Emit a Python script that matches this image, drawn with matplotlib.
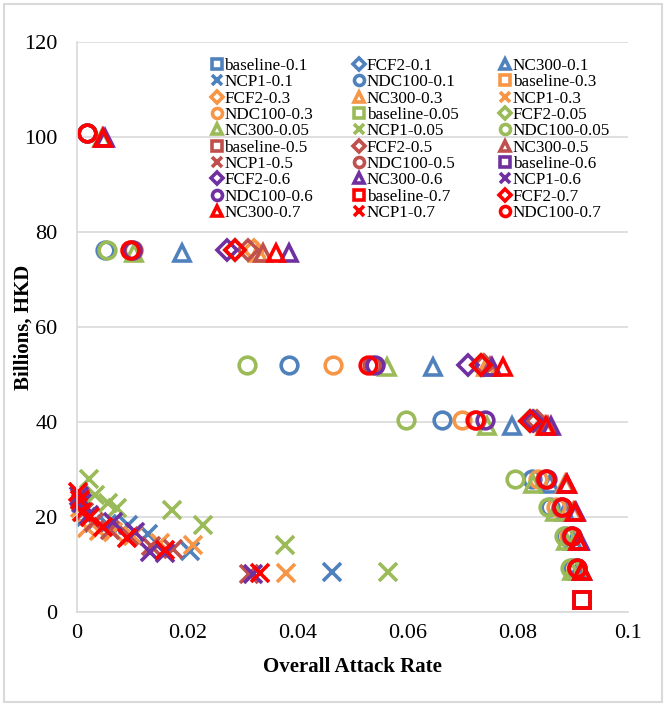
import matplotlib
matplotlib.use("Agg")
import matplotlib.pyplot as plt
from matplotlib.patches import Rectangle

plt.rcParams['font.family'] = ['Liberation Serif', 'DejaVu Serif']

thresholds = ["0.1", "0.3", "0.05", "0.5", "0.6", "0.7"]
colors = {"0.1": "#4F81BD", "0.3": "#F79646", "0.05": "#9BBB59",
          "0.5": "#C0504D", "0.6": "#7030A0", "0.7": "#FF0000"}
strategies = ["baseline", "FCF2", "NC300", "NCP1", "NDC100"]
markers = {"baseline": "s", "FCF2": "D", "NC300": "^", "NCP1": "x", "NDC100": "o"}
msizes = {"baseline": 12, "FCF2": 10, "NC300": 12, "NCP1": 12.5, "NDC100": 12}

# baseline (no intervention)
baseline_x = {t: [0.0916] for t in thresholds}
baseline_y = {t: [2.6] for t in thresholds}

# FCF2
fcf2_y = [76.2, 52.0, 40.2]
fcf2_x = {
    "0.1": [0.0287, 0.0734, 0.0822],
    "0.3": [0.0322, 0.0736, 0.0830],
    "0.05": [0.0287, 0.0734, 0.0822],
    "0.5": [0.0311, 0.0738, 0.0835],
    "0.6": [0.0272, 0.0710, 0.0828],
    "0.7": [0.0287, 0.0734, 0.0822],
}

# NC300
nc300_y = [99.7, 75.6, 51.5, 39.2, 26.9, 21.0, 14.9, 8.6]
nc300_x = {
    "0.1": [0.0048, 0.0190, 0.0647, 0.0789, 0.0858, 0.0885, 0.0900, 0.0910],
    "0.3": [0.0048, 0.0329, 0.0743, 0.0850, 0.0885, 0.0900, 0.0910, 0.0915],
    "0.05": [0.0045, 0.0104, 0.0562, 0.0744, 0.0828, 0.0867, 0.0887, 0.0898],
    "0.5": [0.0048, 0.0337, 0.0750, 0.0855, 0.0887, 0.0902, 0.0911, 0.0916],
    "0.6": [0.0050, 0.0384, 0.0753, 0.0861, 0.0890, 0.0905, 0.0913, 0.0917],
    "0.7": [0.0048, 0.0362, 0.0774, 0.0852, 0.0889, 0.0904, 0.0910, 0.0916],
}

# NCP1
ncp1_x = {
    "0.1": [0.0007, 0.0016, 0.0030, 0.0055, 0.0093, 0.0129, 0.0205, 0.0462],
    "0.3": [0.0006, 0.0018, 0.0040, 0.0065, 0.0102, 0.0150, 0.0211, 0.0380],
    "0.05": [0.0021, 0.0033, 0.0057, 0.0072, 0.0173, 0.0229, 0.0377, 0.0565],
    "0.5": [0.0005, 0.0012, 0.0030, 0.0060, 0.0095, 0.0135, 0.0175, 0.0312],
    "0.6": [0.0003, 0.0009, 0.0022, 0.0066, 0.0105, 0.0132, 0.0160, 0.0320],
    "0.7": [0.0002, 0.0005, 0.0009, 0.0024, 0.0048, 0.0090, 0.0160, 0.0332],
}
ncp1_y = {
    "0.1": [23.0, 20.0, 18.8, 18.5, 18.3, 16.4, 12.9, 8.5],
    "0.3": [22.0, 17.6, 17.0, 16.8, 15.9, 14.5, 14.1, 8.3],
    "0.05": [28.1, 24.6, 22.9, 21.8, 21.5, 18.3, 14.1, 8.5],
    "0.5": [24.0, 21.0, 19.0, 17.2, 16.0, 14.0, 13.2, 8.0],
    "0.6": [24.5, 23.0, 20.5, 19.0, 16.9, 12.7, 12.5, 8.0],
    "0.7": [25.3, 23.6, 21.1, 20.1, 18.0, 15.5, 13.0, 8.3],
}

# NDC100
ndc100_y = [100.8, 76.2, 52.0, 40.4, 28.1, 22.2, 15.9, 9.2]
ndc100_x = {
    "0.1": [0.0018, 0.0050, 0.0384, 0.0662, 0.0825, 0.0858, 0.0885, 0.0898],
    "0.3": [0.0018, 0.0097, 0.0465, 0.0698, 0.0837, 0.0870, 0.0893, 0.0905],
    "0.05": [0.0018, 0.0054, 0.0308, 0.0598, 0.0795, 0.0855, 0.0883, 0.0895],
    "0.5": [0.0018, 0.0102, 0.0535, 0.0725, 0.0850, 0.0878, 0.0897, 0.0907],
    "0.6": [0.0018, 0.0100, 0.0540, 0.0740, 0.0853, 0.0880, 0.0898, 0.0908],
    "0.7": [0.0018, 0.0096, 0.0529, 0.0722, 0.0852, 0.0880, 0.0898, 0.0908],
}

x_ticks = [0, 0.02, 0.04, 0.06, 0.08, 0.1]
x_tick_labels = ["0", "0.02", "0.04", "0.06", "0.08", "0.1"]
y_ticks = [0, 20, 40, 60, 80, 100, 120]

fig = plt.figure(figsize=(6.66, 7.06), dpi=100)
ax = fig.add_axes([77/666, 1-612/706, (628-77)/666, (612-42)/706])

def data_for(s, t):
    if s == "baseline":
        return baseline_x[t], baseline_y[t]
    if s == "FCF2":
        return fcf2_x[t], fcf2_y
    if s == "NC300":
        return nc300_x[t], nc300_y
    if s == "NCP1":
        return ncp1_x[t], ncp1_y[t]
    return ndc100_x[t], ndc100_y

handles = []
labels = []
for t in thresholds:
    for s in strategies:
        xs, ys = data_for(s, t)
        h, = ax.plot(xs, ys, linestyle="none", marker=markers[s], markersize=msizes[s],
                     markerfacecolor="none", markeredgecolor=colors[t],
                     markeredgewidth=2.6, color=colors[t], clip_on=False)
        handles.append(h)
        labels.append(f"{s}-{t}")

ax.set_xlim(0, 0.1)
ax.set_ylim(0, 120)
ax.set_xticks(x_ticks)
ax.set_xticklabels(x_tick_labels)
ax.set_yticks(y_ticks)
ax.tick_params(axis="both", length=0, labelsize=16)
ax.tick_params(axis="y", pad=14)
ax.tick_params(axis="x", pad=9)
ax.grid(axis="y", color="#D9D9D9", linewidth=1.2)
ax.set_axisbelow(True)
for sp in ["top", "right"]:
    ax.spines[sp].set_visible(False)
for sp in ["left", "bottom"]:
    ax.spines[sp].set_color("#D9D9D9")
    ax.spines[sp].set_linewidth(1.2)

ax.set_xlabel("Overall Attack Rate", fontsize=15, fontweight="bold", labelpad=10)
ax.set_ylabel("Billions, HKD", fontsize=15, fontweight="bold")
ax.yaxis.set_label_coords(-0.078, 0.5)

# reorder for row-major legend fill
nrows, ncols = 10, 3
order = [i * ncols + j for j in range(ncols) for i in range(nrows)]
leg = ax.legend([handles[k] for k in order], [labels[k] for k in order],
                ncol=3, loc="upper left", bbox_to_anchor=(0.232, 0.984),
                frameon=False, fontsize=12.3, markerscale=0.6,
                handlelength=0.6, handletextpad=0.15, columnspacing=2.4,
                labelspacing=0.02, borderaxespad=0.0)

fig.patches.append(Rectangle((4/666, 4/706), 1-8/666, 1-8/706, transform=fig.transFigure,
                             fill=False, edgecolor="#D9D9D9", linewidth=1.5))

fig.savefig("out.png", dpi=100)
